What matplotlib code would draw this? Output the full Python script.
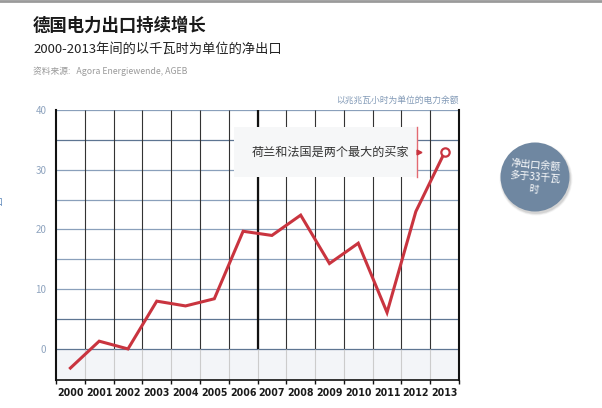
import matplotlib
matplotlib.use("Agg")
import matplotlib.pyplot as plt
from matplotlib.patches import Circle, Rectangle

plt.rcParams["font.family"] = ["Noto Sans CJK SC", "DejaVu Sans"]

# ── Data ───────────────────────────────────────────────────────────────────────
years = [2000, 2001, 2002, 2003, 2004, 2005, 2006,
         2007, 2008, 2009, 2010, 2011, 2012, 2013]
net_export = [-3.2, 1.3, 0.0, 8.0, 7.2, 8.4, 19.7,
              19.0, 22.4, 14.3, 17.7, 6.1, 23.0, 32.9]
y_labels = [0, 10, 20, 30, 40]

title = "德国电力出口持续增长"
subtitle = "2000-2013年间的以千瓦时为单位的净出口"
source = "资料来源:   Agora Energiewende, AGEB"
unit_note = "以兆兆瓦小时为单位的电力余额"
box_note = "荷兰和法国是两个最大的买家"
bubble_note = "净出口余额\n多于33千瓦\n时"

# ── Style ──────────────────────────────────────────────────────────────────────
RED = "#c9343f"
GRID_BLUE = "#8aa0bb"
GRID_DARK = "#5e7592"
TICK_BLUE = "#8fa4bf"
BUBBLE = "#6f87a1"
SHADE = "#f3f5f8"

W, H = 602, 408
fig = plt.figure(figsize=(W / 100, H / 100), dpi=100)
fig.patch.set_facecolor("white")
ax = fig.add_axes([56 / W, 28 / H, (459 - 56) / W, (380 - 110) / H])

x = list(range(len(years)))
ymin, ymax = -5.2, 40
ax.set_xlim(-0.5, len(years) - 0.5)
ax.set_ylim(ymin, ymax)

# shaded band below zero
ax.axhspan(ymin, 0, color=SHADE, zorder=0, lw=0)

# horizontal grid every 5
for v in range(0, 45, 5):
    col = GRID_DARK if v in (0, 5, 35) else GRID_BLUE
    ax.axhline(v, color=col, lw=0.9, zorder=1)

# vertical column dividers
bounds = [i - 0.5 for i in range(1, len(years))]
ax.vlines(bounds, 0, ymax, color="#333333", lw=0.8, zorder=1)
ax.vlines(bounds, ymin, 0, color="#cccccc", lw=0.8, zorder=1)
ax.vlines([6.5], 0, ymax, color="#111111", lw=1.6, zorder=1)

# annotation box covering grid
ax.add_patch(Rectangle((5.67, 28.8), 12.04 - 5.67, 37.1 - 28.8,
                       facecolor="#f6f7f8", edgecolor="none", zorder=2))
ax.plot([12.04, 12.04], [28.8, 37.1], color="#e36a72", lw=1.0, zorder=3)
ax.plot([12.1], [32.9], marker=">", color=RED, ms=3.5, zorder=3)
ax.text(9.05, 32.9, box_note, ha="center", va="center",
        fontsize=8.7, color="#333333", zorder=4)

# data line
ax.plot(x, net_export, color=RED, lw=2.2, zorder=5, solid_joinstyle="miter")
ax.plot(x[-1], net_export[-1], marker="o", ms=6, mfc="white", mec=RED,
        mew=1.6, zorder=6)

# axes styling
ax.spines["top"].set_visible(False)
ax.spines["left"].set_color("#111111")
ax.spines["left"].set_linewidth(1.5)
ax.spines["right"].set_color("#111111")
ax.spines["right"].set_linewidth(1.5)
ax.spines["bottom"].set_color("#111111")
ax.spines["bottom"].set_linewidth(1.2)

ax.set_yticks(y_labels)
ax.set_yticklabels([str(v) for v in y_labels])
ax.tick_params(axis="y", length=0, pad=7, labelsize=7, labelcolor=TICK_BLUE)

ax.set_xticks(bounds + [-0.5, len(years) - 0.5], minor=True)
ax.set_xticks(x)
ax.set_xticklabels([str(y) for y in years])
ax.tick_params(axis="x", which="major", length=0, pad=5.5)
ax.tick_params(axis="x", which="minor", length=3, width=1.0, color="#111111",
               direction="out")
for lab in ax.get_xticklabels():
    lab.set_family("DejaVu Sans")
    lab.set_fontstretch("condensed")
    lab.set_fontweight("bold")
    lab.set_fontsize(7.6)
    lab.set_color("#1a1a1a")

# ── Texts ──────────────────────────────────────────────────────────────────────
fig.add_artist(plt.Line2D([0, 1], [1 - 1 / H, 1 - 1 / H], color="#9a9a9a",
                          lw=2.0, transform=fig.transFigure))
fig.text(33 / W, 1 - 26 / H, title, fontsize=12.5, fontweight="bold",
         color="#1a1a1a", va="center", ha="left")
fig.text(33 / W, 1 - 49 / H, subtitle, fontsize=9.5, color="#222222",
         va="center", ha="left")
fig.text(33 / W, 1 - 71 / H, source, fontsize=6.3, color="#9a9a9a",
         va="center", ha="left")
fig.text(459 / W, 1 - 100 / H, unit_note, fontsize=6.3, color="#8199b6",
         va="center", ha="right")
fig.text(3 / W, 1 - 202 / H, "口", fontsize=6.5, color="#5a85b8",
         va="center", ha="right")

# ── Bubble ─────────────────────────────────────────────────────────────────────
cx, cy, r = 535 / 100, (H - 177) / 100, 0.345
for i, a in enumerate([0.04, 0.06, 0.08]):
    fig.add_artist(Circle((cx + 0.01, cy - 0.02), r + 0.02 - i * 0.008,
                          transform=fig.dpi_scale_trans, color="black",
                          alpha=a, lw=0))
fig.add_artist(Circle((cx, cy), r, transform=fig.dpi_scale_trans,
                      color=BUBBLE, lw=0))
fig.text(cx / (W / 100), cy / (H / 100), bubble_note, fontsize=7.2,
         color="white", ha="center", va="center", rotation=-5,
         linespacing=1.25)

plt.savefig("out.png", dpi=100)
plt.close()
